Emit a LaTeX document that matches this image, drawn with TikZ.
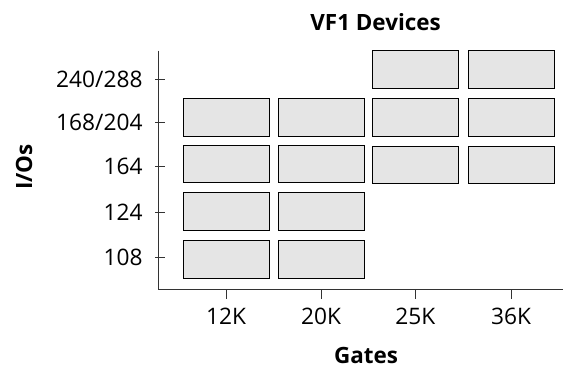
\documentclass[tikz,border=0pt]{standalone}
\usepackage{fontspec}
\setmainfont{Open Sans}
\begin{document}
\begin{tikzpicture}[x=1bp,y=-1bp,
  dev/.style={draw=black,fill=black!10,line width=1bp,inner sep=0pt,minimum width=86bp,minimum height=37.5bp},
  axis/.style={draw=black!80,line width=1bp},
  ticklab/.style={font=\fontsize{22.8}{26}\selectfont,inner sep=0pt},
  ttl/.style={font=\bfseries\fontsize{22.5}{26}\selectfont,inner sep=0pt}]
\useasboundingbox (0,0) rectangle (563,368);
% axes
\coordinate (otop) at (158.3,50.5);
\coordinate (orig) at (158.3,289.7);
\coordinate (oright) at (563,289.7);
\draw[axis] (otop) -- (orig) -- (oright);
% y ticks and labels
\foreach \n/\y/\t in {a/79/240\slash 288,b/122.3/168\slash 204,c/166.3/164,d/212.7/124,e/257/108}{
  \coordinate (yt\n) at (155,\y);
  \coordinate (yu\n) at (164.5,\y);
  \draw[axis] (yt\n) -- (yu\n);
  \node[ticklab,anchor=east] (yl\n) at (142.7,\y) {\t};
}
% x ticks and labels
\foreach \n/\x/\t in {a/226.2/12K,b/321/20K,c/415.4/25K,d/511/36K}{
  \coordinate (xt\n) at (\x,289.7);
  \coordinate (xu\n) at (\x,299.3);
  \draw[axis] (xt\n) -- (xu\n);
  \node[ticklab] (xl\n) at (\x,316) {\t};
}
% devices
\node[dev] (r1c3) at (415.4,69.5) {};
\node[dev] (r1c4) at (511.7,69.5) {};
\foreach \c/\x in {1/226.2,2/321.4,3/415.4,4/511.7}{
  \node[dev] (r2c\c) at (\x,117.3) {};
}
\node[dev] (r3c1) at (226.2,163.8) {};
\node[dev] (r3c2) at (321.4,163.8) {};
\node[dev] (r3c3) at (415.4,165.2) {};
\node[dev] (r3c4) at (511.7,165.2) {};
\foreach \c/\x in {1/226.2,2/321.4}{
  \node[dev] (r4c\c) at (\x,211.7) {};
  \node[dev] (r5c\c) at (\x,259.7) {};
}
% titles
\node[ttl] (title) at (375.6,22) {VF1 Devices};
\node[ttl,rotate=90] (ylab) at (24,167) {I/Os};
\node[ttl] (xlab) at (366,355) {Gates};
\end{tikzpicture}
\end{document}
